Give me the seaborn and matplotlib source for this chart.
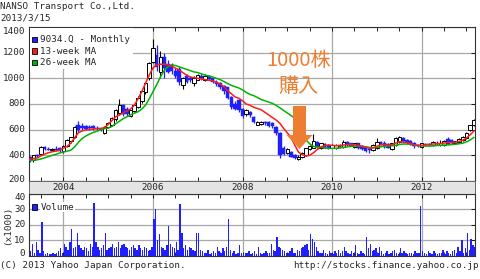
import numpy as np
import pandas as pd
import matplotlib
matplotlib.use("Agg")
import matplotlib.pyplot as plt
import seaborn as sns
from matplotlib.patches import Rectangle, Polygon

# ---------------- data ----------------
title = "NANSO Transport Co.,Ltd."
date_label = "2013/3/15"
start_year = 2003
start_month = 4  # first monthly candle: April 2003

opens = [390, 360, 400, 410, 465, 450, 445, 450, 455, 430,
         475, 510, 540, 640, 630, 625, 620, 630, 615, 605,
         575, 620, 640, 680, 730, 790, 760, 710, 745, 780,
         820, 890, 1000, 1130, 1180, 1050, 1165, 1110, 1100, 1060,
         1070, 950, 1020, 1000, 965, 990, 1020, 985, 1015, 1000,
         975, 960, 940, 930, 855, 800, 830, 760, 720, 740,
         700, 640, 645, 660, 660, 650, 620, 575, 460, 420,
         425, 400, 370, 385, 400, 450, 460, 505, 455, 490,
         480, 460, 455, 480, 465, 505, 495, 465, 495, 470,
         465, 450, 440, 455, 505, 500, 490, 450, 480, 505,
         535, 520, 510, 500, 480, 465, 490, 485, 480, 500,
         480, 480, 525, 520, 495, 505, 520, 535, 595, 635]
highs = [395, 405, 410, 470, 470, 465, 460, 470, 465, 480,
         525, 545, 625, 665, 650, 640, 635, 640, 625, 615,
         625, 660, 700, 760, 840, 800, 780, 755, 800, 860,
         915, 975, 1130, 1310, 1260, 1210, 1200, 1140, 1120, 1080,
         1090, 1010, 1035, 1020, 1015, 1030, 1030, 1030, 1025, 1010,
         990, 975, 950, 935, 865, 820, 840, 770, 760, 745,
         710, 665, 670, 670, 665, 660, 630, 580, 470, 455,
         435, 410, 400, 425, 460, 480, 565, 515, 500, 495,
         490, 485, 485, 490, 520, 510, 500, 500, 500, 480,
         470, 460, 485, 535, 515, 510, 495, 500, 540, 550,
         545, 530, 520, 505, 490, 500, 500, 495, 515, 510,
         520, 520, 540, 530, 515, 535, 550, 580, 640, 680]
lows = [345, 345, 385, 405, 440, 440, 430, 430, 425, 420,
        465, 500, 535, 580, 600, 600, 595, 600, 600, 590,
        570, 610, 630, 670, 715, 710, 710, 700, 740, 770,
        810, 880, 990, 1120, 1060, 1000, 1000, 1040, 1030, 1000,
        950, 920, 965, 975, 940, 985, 990, 980, 985, 960,
        940, 920, 880, 840, 760, 750, 740, 690, 710, 700,
        650, 635, 640, 640, 620, 615, 560, 380, 400, 410,
        385, 370, 365, 380, 395, 440, 455, 460, 450, 455,
        450, 455, 450, 460, 460, 470, 470, 460, 450, 445,
        425, 420, 435, 450, 480, 460, 455, 440, 475, 500,
        500, 490, 480, 455, 465, 460, 470, 475, 475, 480,
        475, 475, 480, 485, 490, 500, 515, 530, 590, 630]
closes = [360, 400, 395, 465, 450, 445, 450, 440, 430, 475,
          520, 540, 620, 600, 610, 605, 610, 615, 605, 600,
          620, 650, 690, 750, 790, 720, 725, 750, 790, 850,
          905, 965, 1120, 1235, 1090, 1165, 1080, 1050, 1060, 1020,
          970, 1000, 975, 985, 1005, 1025, 1000, 1020, 995, 970,
          955, 935, 900, 850, 780, 760, 750, 705, 755, 715,
          660, 660, 660, 650, 630, 625, 575, 400, 410, 450,
          390, 380, 390, 420, 455, 470, 515, 465, 495, 460,
          455, 480, 480, 465, 505, 480, 475, 495, 460, 450,
          435, 440, 480, 505, 490, 470, 460, 495, 535, 545,
          510, 495, 490, 470, 470, 495, 480, 480, 505, 490,
          495, 515, 490, 495, 510, 530, 545, 575, 635, 675]
ma13 = [370, 375, 380, 395, 410, 420, 428, 433, 440, 455,
        470, 495, 535, 575, 590, 598, 602, 605, 608, 610,
        615, 640, 670, 700, 715, 730, 745, 760, 790, 840,
        895, 960, 1025, 1080, 1105, 1110, 1110, 1105, 1095, 1080,
        1065, 1045, 1025, 1010, 1005, 1000, 995, 990, 985, 980,
        970, 955, 935, 905, 880, 855, 845, 825, 800, 790,
        775, 765, 755, 735, 715, 695, 675, 650, 610, 575,
        540, 480, 425, 405, 395, 400, 420, 445, 465, 475,
        480, 478, 475, 475, 480, 485, 485, 482, 478, 470,
        462, 455, 458, 470, 482, 485, 480, 482, 495, 505,
        505, 500, 492, 482, 475, 478, 482, 485, 488, 490,
        492, 495, 500, 500, 502, 508, 518, 535, 560, 590]
ma26 = [360, 362, 365, 372, 380, 390, 400, 408, 418, 425,
        432, 440, 465, 500, 530, 550, 565, 578, 588, 600,
        608, 612, 625, 645, 665, 685, 700, 715, 728, 740,
        760, 790, 840, 895, 950, 1010, 1060, 1090, 1105, 1100,
        1090, 1080, 1070, 1060, 1050, 1045, 1035, 1025, 1018, 1010,
        1000, 990, 975, 960, 945, 935, 925, 910, 890, 875,
        865, 850, 835, 825, 815, 805, 790, 770, 750, 730,
        710, 690, 620, 560, 520, 490, 470, 465, 462, 458,
        455, 455, 455, 458, 462, 466, 470, 472, 472, 470,
        466, 462, 460, 462, 466, 470, 472, 474, 478, 484,
        488, 488, 486, 482, 478, 474, 472, 472, 474, 476,
        478, 480, 482, 484, 486, 490, 495, 505, 520, 540]
# volume (x1000 shares), two bars per month
volume = [3, 8, 2, 9, 4, 2, 22, 3, 1, 2, 1, 1, 2, 1, 2, 3, 5, 2, 8, 6,
          4, 9, 17, 5, 6, 15, 7, 5, 4, 6, 5, 3, 8, 6, 34, 9, 6, 4, 5, 7,
          15, 4, 5, 6, 8, 5, 6, 9, 5, 7, 8, 6, 5, 4, 6, 7, 5, 4, 7, 5,
          4, 6, 5, 3, 4, 6, 24, 30, 10, 14, 6, 5, 4, 7, 19, 8, 6, 5, 9, 4,
          33, 15, 5, 7, 4, 6, 5, 4, 3, 15, 15, 4, 3, 2, 2, 4, 1, 2, 3, 2,
          6, 3, 2, 5, 3, 6, 24, 4, 2, 3, 1, 2, 7, 2, 1, 2, 2, 3, 1, 2,
          3, 1, 6, 2, 1, 2, 3, 2, 2, 8, 4, 3, 12, 6, 5, 4, 3, 2, 2, 3,
          5, 2, 2, 4, 3, 5, 6, 7, 8, 4, 14, 11, 9, 6, 3, 2, 2, 4, 2, 1,
          3, 2, 1, 3, 2, 4, 2, 3, 6, 3, 2, 1, 3, 2, 7, 2, 1, 3, 2, 1,
          12, 5, 8, 3, 4, 5, 2, 6, 3, 1, 2, 3, 1, 2, 3, 4, 2, 1, 5, 2,
          3, 2, 1, 2, 2, 1, 3, 2, 2, 32, 3, 2, 1, 3, 2, 1, 3, 2, 1, 2,
          2, 4, 1, 3, 2, 1, 3, 4, 2, 6, 3, 10, 2, 5, 15, 4, 11, 7, 6, 9]
price_ticks = [200, 400, 600, 800, 1000, 1200, 1400]
vol_ticks = [0, 10, 20, 30, 40]
year_ticks = [2004, 2006, 2008, 2010, 2012]
legend_labels = ["9034.Q - Monthly", "13-week MA", "26-week MA"]
note_line1 = "1000株"
note_line2 = "購入"

# ---------------- frames ----------------
n = len(closes)
mx = [start_year + (start_month - 1 + i) / 12.0 for i in range(n)]
df = pd.DataFrame({"x": mx, "open": opens, "high": highs, "low": lows,
                   "close": closes, "ma13": ma13, "ma26": ma26})
vx = [start_year + (start_month - 1) / 12.0 + (h + 0.5) / 24.0 for h in range(len(volume))]
vdf = pd.DataFrame({"x": vx, "vol": volume})

# ---------------- style ----------------
sns.set_theme(style="white")
plt.rcParams["font.family"] = ["DejaVu Sans Mono", "Noto Sans CJK JP"]
MONO = 6.7
BLUE = "#1f1fff"
GRID = "#a8a8a8"
ORANGE = "#ED7D31"

W, H = 480, 279
fig = plt.figure(figsize=(4.8, 2.79), dpi=100)
fig.patch.set_facecolor("white")


def frac(l, t, r, b):
    return [l / W, 1 - b / H, (r - l) / W, (b - t) / H]


X0, X1 = 2003.234, 2013.19
L, R = 29, 475
ax = fig.add_axes(frac(L, 27, R, 181))
axs = fig.add_axes(frac(L, 181, R, 193.5))
axv = fig.add_axes(frac(L, 193.5, R, 256))

minor = np.arange(2003.5, 2013.2, 0.5)
for a in (ax, axv):
    a.set_xlim(X0, X1)
    a.set_facecolor("white")
    a.set_axisbelow(True)
    a.set_xticks(year_ticks)
    a.set_xticks(minor, minor=True)
    a.grid(True, axis="both", which="major", color=GRID, lw=0.9)
    a.tick_params(axis="x", which="both", direction="in", length=3, top=True,
                  bottom=True, labelbottom=False, color="black", width=0.6)
    a.tick_params(axis="y", which="both", direction="in", length=3, right=True,
                  left=False, labelleft=False, color="black", width=0.6)
    for s in a.spines.values():
        s.set_color("#333333")
        s.set_linewidth(0.8)

# ---------------- price panel ----------------
ax.set_ylim(200, 1400)
ax.set_yticks(price_ticks)
up = df[df["close"] >= df["open"]]
dn = df[df["close"] < df["open"]]
bw = 0.08
ax.vlines(dn["x"], dn["low"], dn["high"], color=BLUE, lw=0.9, zorder=2)
ax.bar(dn["x"], dn["open"] - dn["close"], bottom=dn["close"], width=bw,
       color=BLUE, edgecolor=BLUE, lw=0.3, zorder=2)
ax.vlines(up["x"], up["low"], up["high"], color="black", lw=0.8, zorder=3)
ax.bar(up["x"], (up["close"] - up["open"]).clip(lower=4), bottom=up["open"], width=bw,
       color="white", edgecolor="black", lw=0.7, zorder=3)
sns.lineplot(data=df, x="x", y="ma26", ax=ax, color="#00b400", lw=1.1, zorder=4, legend=False)
sns.lineplot(data=df, x="x", y="ma13", ax=ax, color="#ff1a1a", lw=1.1, zorder=4, legend=False)
ax.set_xlabel("")
ax.set_ylabel("")
ax.set_xlim(X0, X1)
ax.set_ylim(200, 1400)

# legend box (white background hides the grid)
lg = Rectangle((30 / W, 1 - 69 / H), 103 / W, 41 / H, transform=fig.transFigure,
               facecolor="white", edgecolor="none", zorder=1)
fig.patches.append(lg)
leg_cols = [BLUE, "#ff1a1a", "#00b400"]
for k, (lab, c) in enumerate(zip(legend_labels, leg_cols)):
    yc = 39.5 + k * 11.6
    fig.patches.append(Rectangle((32 / W, 1 - (yc + 2.7) / H), 5.2 / W, 5.4 / H,
                                 transform=fig.transFigure, facecolor=c,
                                 edgecolor="black", lw=0.6, zorder=5))
    fig.text(40.5 / W, 1 - yc / H, lab, fontsize=MONO, va="center", ha="left", zorder=6)

# price tick labels
for p in price_ticks:
    yp = 181 - (p - 200) * 154 / 1200
    if p == 1400:
        yp += 4.5
    if p == 200:
        yp -= 1.7
    fig.text(25.5 / W, 1 - yp / H, str(p), fontsize=MONO, ha="right", va="center")

# ---------------- date strip ----------------
axs.set_xlim(X0, X1)
axs.set_ylim(0, 1)
axs.set_facecolor("#e4e4e4")
axs.set_xticks([])
axs.set_yticks([])
for s in axs.spines.values():
    s.set_color("#666666")
    s.set_linewidth(0.7)
for yv in year_ticks:
    axs.text(yv, 0.45, str(yv), fontsize=MONO, ha="center", va="center")

# ---------------- volume panel ----------------
sns.histplot(data=vdf, x="x", weights="vol", bins=len(volume),
             binrange=(vx[0] - 1 / 48, vx[-1] + 1 / 48), ax=axv,
             color=BLUE, edgecolor=BLUE, linewidth=0.0, alpha=1.0,
             shrink=0.75, zorder=2)
axv.set_xlabel("")
axv.set_ylabel("")
axv.set_xlim(X0, X1)
axv.set_ylim(0, 40)
axv.set_yticks(vol_ticks)
axv.grid(True, axis="both", which="major", color=GRID, lw=0.9)
for v in vol_ticks:
    yv = 256 - v * 62.5 / 40
    if v == 40:
        yv += 4.5
    if v == 0:
        yv -= 2.5
    fig.text(25.5 / W, 1 - yv / H, str(v), fontsize=MONO, ha="right", va="center")
fig.patches.append(Rectangle((32 / W, 1 - 209.5 / H), 5.2 / W, 5.4 / H,
                             transform=fig.transFigure, facecolor=BLUE,
                             edgecolor="black", lw=0.6, zorder=5))
fig.text(40.5 / W, 1 - 207 / H, "Volume", fontsize=MONO, va="center", ha="left",
         zorder=6, bbox=dict(facecolor="white", edgecolor="none", pad=0.6))
fig.text(7.5 / W, 1 - 225 / H, "(x1000)", fontsize=MONO, rotation=90,
         ha="center", va="center")

# ---------------- header / footer ----------------
fig.text(0.5 / W, 1 - 6.8 / H, title, fontsize=MONO, ha="left", va="center")
fig.text(0.5 / W, 1 - 18 / H, date_label, fontsize=MONO, ha="left", va="center")
fig.text(0.5 / W, 1 - 265.5 / H, "(C) 2013 Yahoo Japan Corporation.", fontsize=MONO,
         ha="left", va="center")
fig.text(479 / W, 1 - 265.5 / H, "http://stocks.finance.yahoo.co.jp", fontsize=MONO,
         ha="right", va="center")

# ---------------- annotation ----------------
cjk = ["Noto Sans CJK JP", "DejaVu Sans"]
fig.text(298.5 / W, 1 - 60 / H, note_line1, fontsize=14.5, color=ORANGE,
         family=cjk, ha="center", va="center")
fig.text(298.5 / W, 1 - 87 / H, note_line2, fontsize=14.5, color=ORANGE,
         family=cjk, ha="center", va="center")
arrow_px = [(293, 106), (306, 106), (306, 135), (312.5, 135), (299.5, 149),
            (286.5, 135), (293, 135)]
fig.patches.append(Polygon([(px / W, 1 - py / H) for px, py in arrow_px], closed=True,
                           transform=fig.transFigure, facecolor=ORANGE,
                           edgecolor="none", zorder=10))

fig.savefig("out.png", dpi=100, facecolor="white")
